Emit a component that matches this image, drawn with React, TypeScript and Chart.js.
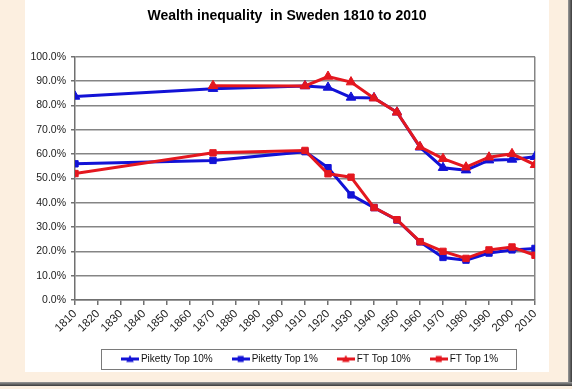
import React, { useEffect, useRef } from 'react';
import { Chart, registerables } from 'chart.js';

Chart.register(...registerables);

const chartTitle = 'Wealth inequality  in Sweden 1810 to 2010';
const years = [1810, 1870, 1910, 1920, 1930, 1940, 1950, 1960, 1970, 1980, 1990, 2000, 2010];
const pikettyTop10 = [83.7, 86.9, 88.0, 87.4, 83.3, 83.1, 77.2, 62.8, 54.4, 53.4, 57.5, 57.8, 58.9];
const pikettyTop1 = [56.0, 57.4, 61.0, 54.4, 43.2, 38.0, 32.9, 23.9, 17.5, 16.4, 19.3, 20.6, 21.2];
const ftTop10 = [null, 88.1, 88.0, 91.9, 89.6, 83.0, 77.2, 63.0, 58.1, 54.6, 58.7, 60.1, 55.6];
const ftTop1 = [52.0, 60.5, 61.5, 51.9, 50.5, 38.0, 33.0, 24.0, 20.0, 17.1, 20.6, 21.8, 18.4];
const seriesLabels = ['Piketty Top 10%', 'Piketty Top 1%', 'FT Top 10%', 'FT Top 1%'];

const BLUE = '#1212D6';
const RED = '#E4171F';
const GRID = '#858585';
const AXIS = '#707070';
const FONT = "'Liberation Sans', Arial, sans-serif";

function makeIcon(color: string, style: string) {
  const c = document.createElement('canvas');
  c.width = 18;
  c.height = 9;
  const ctx = c.getContext('2d')!;
  ctx.strokeStyle = color;
  ctx.lineWidth = 3;
  ctx.beginPath();
  ctx.moveTo(0, 4.5);
  ctx.lineTo(18, 4.5);
  ctx.stroke();
  ctx.fillStyle = color;
  if (style === 'triangle') {
    ctx.beginPath();
    ctx.moveTo(9, 0.5);
    ctx.lineTo(12.8, 7.5);
    ctx.lineTo(5.2, 7.5);
    ctx.closePath();
    ctx.fill();
  } else {
    ctx.fillRect(6, 1.5, 6, 6);
  }
  return c;
}

const shiftPlugin = {
  id: 'blockShift',
  afterLayout(chart: any) {
    const lg = chart.legend;
    if (lg) {
      lg.left += 6;
      lg.right += 6;
    }
    const tb = chart.titleBlock;
    if (tb) {
      tb.left += 7;
      tb.right += 7;
    }
  },
};

const legendBoxPlugin = {
  id: 'legendBox',
  afterDraw(chart: any) {
    const lg = chart.legend;
    if (!lg || !lg.legendHitBoxes || !lg.legendHitBoxes.length) return;
    const hb = lg.legendHitBoxes;
    const left = Math.min(...hb.map((h: any) => h.left)) - 23;
    const right = Math.max(...hb.map((h: any) => h.left + h.width)) + 18;
    const cy = hb[0].top + hb[0].height / 2;
    const ctx = chart.ctx;
    ctx.save();
    ctx.strokeStyle = '#7a7a7a';
    ctx.lineWidth = 1;
    ctx.strokeRect(Math.round(left) + 0.5, Math.round(cy - 10) + 0.5, Math.round(right - left), 20);
    ctx.restore();
  },
};

export default function App() {
  const ref = useRef<HTMLCanvasElement>(null);

  useEffect(() => {
    if (!ref.current) return;
    const styles = ['triangle', 'rect', 'triangle', 'rect'];
    const colors = [BLUE, BLUE, RED, RED];
    const values = [pikettyTop10, pikettyTop1, ftTop10, ftTop1];
    const icons = styles.map((s, i) => makeIcon(colors[i], s));

    const datasets = values.map((arr, i) => ({
      label: seriesLabels[i],
      data: years.map((x, j) => ({ x, y: arr[j] })),
      borderColor: colors[i],
      backgroundColor: colors[i],
      borderWidth: 3,
      pointStyle: styles[i],
      pointRadius: styles[i] === 'triangle' ? 5.5 : 4.5,
      pointBorderWidth: 1,
      pointBorderColor: colors[i],
      pointBackgroundColor: colors[i],
      tension: 0,
      order: i < 2 ? 1 : 0,
    }));

    const chart = new Chart(ref.current, {
      type: 'line',
      data: { datasets: datasets as any },
      plugins: [shiftPlugin, legendBoxPlugin],
      options: {
        responsive: false,
        devicePixelRatio: 1,
        animation: false,
        events: [],
        layout: { padding: { left: 25, right: 37, top: 0, bottom: 15 } },
        plugins: {
          title: {
            display: true,
            text: chartTitle,
            color: '#000',
            font: { family: FONT, size: 14, weight: 'bold' },
            padding: { top: 8, bottom: 32 },
          },
          legend: {
            display: true,
            position: 'bottom',
            fullSize: false,
            labels: {
              usePointStyle: true,
              pointStyleWidth: 12,
              padding: 22,
              color: '#111',
              font: { family: FONT, size: 10 },
              generateLabels: (ch: any) => {
                const items = Chart.defaults.plugins.legend.labels.generateLabels(ch);
                items.sort((a: any, b: any) => a.datasetIndex - b.datasetIndex);
                return items.map((it: any) => ({ ...it, pointStyle: icons[it.datasetIndex] }));
              },
            },
          },
          tooltip: { enabled: false },
        },
        scales: {
          x: {
            type: 'linear',
            min: 1810,
            max: 2010,
            afterFit: (s: any) => { s.height = 32; },
            ticks: {
              stepSize: 10,
              autoSkip: false,
              maxRotation: 45,
              minRotation: 45,
              padding: 2,
              color: '#222',
              font: { family: FONT, size: 11.5 },
              callback: (v: any) => String(v),
            },
            grid: {
              drawOnChartArea: true,
              color: (c: any) => (c.tick && c.tick.value === 2010 ? GRID : 'rgba(0,0,0,0)'),
              tickColor: AXIS,
              tickLength: 5,
              lineWidth: 1.5,
            },
            border: { display: true, color: AXIS, width: 1.5 },
          },
          y: {
            min: 0,
            max: 100,
            afterFit: (s: any) => { s.width = 50; },
            ticks: {
              stepSize: 10,
              padding: 5,
              color: '#222',
              font: { family: FONT, size: 10.5 },
              callback: (v: any) => Number(v).toFixed(1) + '%',
            },
            grid: {
              color: GRID,
              tickColor: AXIS,
              tickLength: 4,
              lineWidth: 1.5,
            },
            border: { display: true, color: AXIS, width: 1.5 },
          },
        },
      } as any,
    });
    return () => chart.destroy();
  }, []);

  return (
    <div style={{ position: 'fixed', left: 0, top: 0, width: 572, height: 389, background: '#FCEFE0', overflow: 'hidden' }}>
      <div style={{ position: 'absolute', left: 25, top: 0, width: 524, height: 372, background: '#ffffff' }} />
      <div style={{ position: 'absolute', left: 568, top: 0, width: 4, height: 386, background: 'linear-gradient(to right, #9a9a9a, #3a3a3a)' }} />
      <div style={{ position: 'absolute', left: 0, top: 382, width: 572, height: 4, background: 'linear-gradient(to bottom, #9a9a9a, #3a3a3a)' }} />
      <canvas ref={ref} width={572} height={389} style={{ position: 'absolute', left: 0, top: 0, width: 572, height: 389 }} />
    </div>
  );
}
